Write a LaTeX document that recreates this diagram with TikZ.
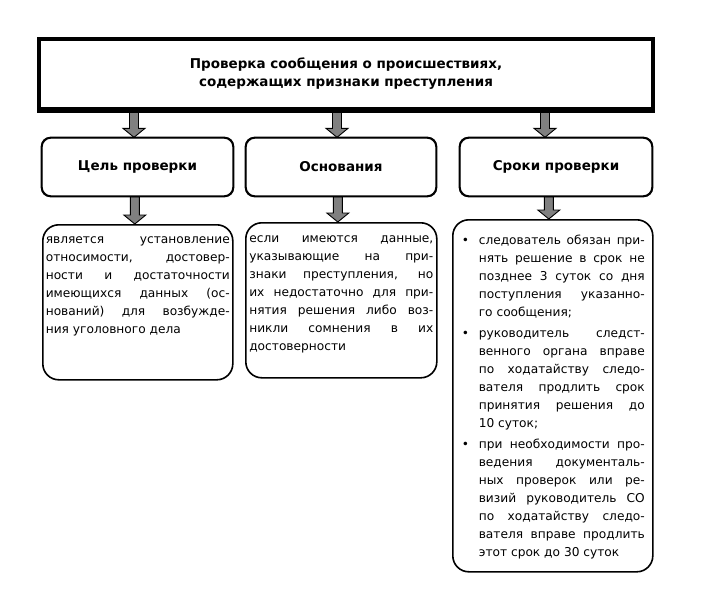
\documentclass[tikz,border=0pt]{standalone}
\usepackage{fontspec}
\setmainfont{DejaVu Sans}
\newfontfamily\nb{DejaVu Sans}
\usetikzlibrary{calc}
\definecolor{arrowgray}{RGB}{128,128,128}
\newcommand\lst{\vrule height 10pt depth 0pt width 0pt}
\newcommand\jl[1]{\hbox to \hsize{\lst\spaceskip=.3em plus 1fil\relax #1}}
\newcommand\el[1]{\hbox{\lst#1}}
\newlength\bind \setlength\bind{18pt}
\newcommand\bjl[1]{\hbox to \hsize{\lst\hbox to \bind{\hskip1pt\textbullet\hfil}\hbox to \dimexpr\hsize-\bind\relax{\spaceskip=.3em plus 1fil\relax #1}}}
\newcommand\ijl[1]{\hbox to \hsize{\lst\hskip\bind\hbox to \dimexpr\hsize-\bind\relax{\spaceskip=.3em plus 1fil\relax #1}}}
\newcommand\iel[1]{\hbox{\lst\hskip\bind #1}}
\tikzset{
  headbox/.style={draw=black, line width=4pt, fill=white, minimum width=614pt, minimum height=70pt, align=center, font=\nb\bfseries\fontsize{13.5}{18}\selectfont, inner sep=0pt},
  catbox/.style={draw=black, line width=1.3pt, rounded corners=9pt, fill=white, minimum height=58pt, inner sep=0pt, font=\nb\bfseries\fontsize{13.5}{18}\selectfont},
  textbox/.style={draw=black, line width=1.6pt, rounded corners=16pt, fill=white, inner ysep=4pt, anchor=north west, font=\fontsize{12.2}{18}\selectfont},
  barrow/.style={draw=black, line width=0.9pt, fill=arrowgray}
}
\newcommand\blockarrow[2]{%
  \draw[barrow] ($(#1)+(-4.5,0)$) -- ($(#2)+(-4.5,-9)$) -- ($(#2)+(-11,-9)$) -- (#2)
    -- ($(#2)+(11,-9)$) -- ($(#2)+(4.5,-9)$) -- ($(#1)+(4.5,0)$) -- cycle;}
\begin{document}
\begin{tikzpicture}[x=1pt, y=-1pt]
\useasboundingbox (0,0) rectangle (704,600);
% nodes
\node[headbox] (top) at (346,74) {Проверка сообщения о происшествиях,\\содержащих признаки преступления};
\node[catbox, minimum width=191pt] (c1) at (137.5,167) {Цель проверки};
\node[catbox, minimum width=190pt] (c2) at (341,167) {Основания};
\node[catbox, minimum width=192pt] (c3) at (556,167) {Сроки проверки};
\node[textbox, inner xsep=3pt] (b1) at (42,224) {\vbox to 147pt{\hsize=184pt\vskip 5pt
  \jl{является установление}
  \jl{относимости, достовер-}
  \jl{ности и достаточности}
  \jl{имеющихся данных (ос-}
  \jl{нований) для возбужде-}
  \el{ния уголовного дела}\vfil}};
\node[textbox, inner xsep=3.5pt] (b2) at (245,222) {\vbox to 147pt{\hsize=184pt\vskip 5.5pt
  \jl{если имеются данные,}
  \jl{указывающие на при-}
  \jl{знаки преступления, но}
  \jl{их недостаточно для при-}
  \jl{нятия решения либо воз-}
  \jl{никли сомнения в их}
  \el{достоверности}\vfil}};
\node[textbox, inner xsep=8pt] (b3) at (452,219) {\vbox to 344pt{\hsize=184pt\vskip 10.5pt
  \bjl{следователь обязан при-}
  \ijl{нять решение в срок не}
  \ijl{позднее 3 суток со дня}
  \ijl{поступления указанно-}
  \iel{го сообщения;}
  \vskip 3pt
  \bjl{руководитель следст-}
  \ijl{венного органа вправе}
  \ijl{по ходатайству следо-}
  \ijl{вателя продлить срок}
  \ijl{принятия решения до}
  \iel{10 суток;}
  \vskip 3pt
  \bjl{при необходимости про-}
  \ijl{ведения документаль-}
  \ijl{ных проверок или ре-}
  \ijl{визий руководитель СО}
  \ijl{по ходатайству следо-}
  \ijl{вателя вправе продлить}
  \iel{этот срок до 30 суток}\vfil}};
% connector end points
\coordinate (t1) at ($(c1.north)+(-3.5,0)$);
\coordinate (t2) at ($(c2.north)+(-4,0)$);
\coordinate (t3) at ($(c3.north)+(-11,0)$);
\coordinate (s1) at (t1 |- top.south);
\coordinate (s2) at (t2 |- top.south);
\coordinate (s3) at (t3 |- top.south);
\coordinate (u1) at ($(b1.north)+(-3,0)$);
\coordinate (u2) at ($(b2.north)+(-3.5,0)$);
\coordinate (u3) at ($(b3.north)+(-4,0)$);
\coordinate (v1) at (u1 |- c1.south);
\coordinate (v2) at (u2 |- c2.south);
\coordinate (v3) at (u3 |- c3.south);
% arrows
\blockarrow{s1}{t1}
\blockarrow{s2}{t2}
\blockarrow{s3}{t3}
\blockarrow{v1}{u1}
\blockarrow{v2}{u2}
\blockarrow{v3}{u3}
% redraw box borders over arrow starts
\draw[line width=4pt] (top.south west) -- (top.south east);
\draw[line width=1.3pt, rounded corners=9pt] (c1.south west) rectangle (c1.north east);
\draw[line width=1.3pt, rounded corners=9pt] (c2.south west) rectangle (c2.north east);
\draw[line width=1.3pt, rounded corners=9pt] (c3.south west) rectangle (c3.north east);
\end{tikzpicture}
\end{document}
